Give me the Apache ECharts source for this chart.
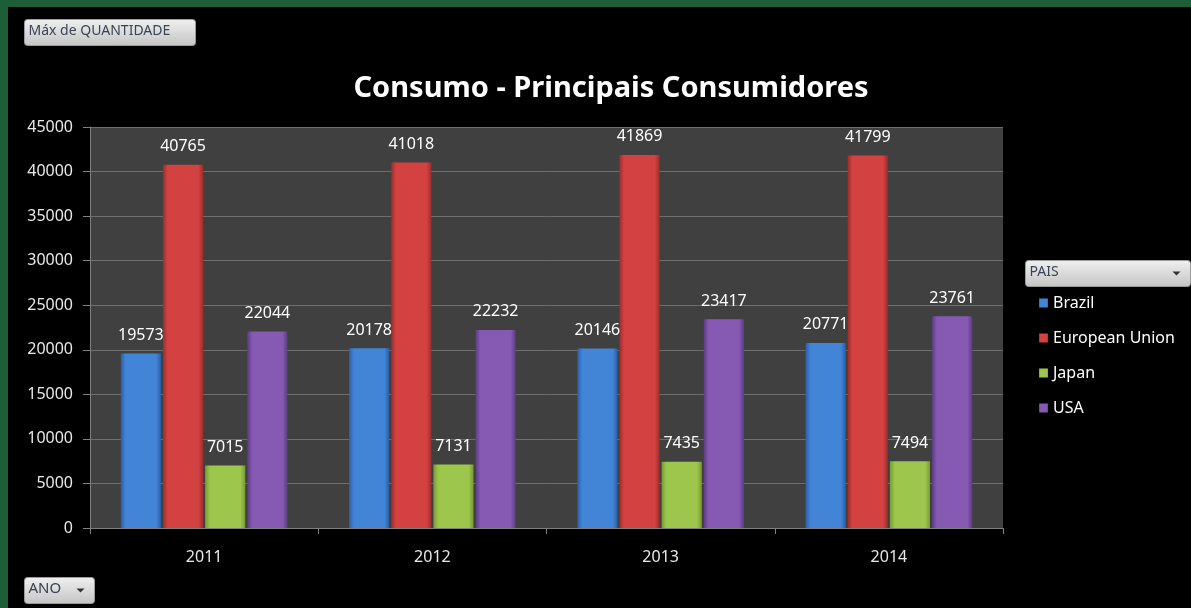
<!DOCTYPE html>
<html>
<head>
<meta charset="utf-8">
<script src="https://cdn.jsdelivr.net/npm/echarts@6/dist/echarts.min.js"></script>
<style>
html,body{margin:0;padding:0;background:#000;}
#c{width:1191px;height:608px;}
</style>
</head>
<body>
<div id="c"></div>
<script>
var years = ['2011', '2012', '2013', '2014'];
var brazil = [19573, 20178, 20146, 20771];
var eu = [40765, 41018, 41869, 41799];
var japan = [7015, 7131, 7435, 7494];
var usa = [22044, 22232, 23417, 23761];
var seriesNames = ['Brazil', 'European Union', 'Japan', 'USA'];

var baseColors = [
  ['#2a5fa8', '#4284d6', '#2a5fa8'],
  ['#9e2c2b', '#d34240', '#9e2c2b'],
  ['#789a33', '#9dc64c', '#789a33'],
  ['#5c3c82', '#8659b3', '#5c3c82']
];
function grad(c) {
  return new echarts.graphic.LinearGradient(0, 0, 1, 0, [
    {offset: 0, color: c[0]},
    {offset: 0.12, color: c[1]},
    {offset: 0.88, color: c[1]},
    {offset: 1, color: c[2]}
  ]);
}
var font = '"Noto Sans", "Open Sans", sans-serif';
var dataSets = [brazil, eu, japan, usa];

var chart = echarts.init(document.getElementById('c'));
var series = dataSets.map(function (d, i) {
  return {
    name: seriesNames[i],
    type: 'bar',
    data: d,
    barGap: '5%',
    barCategoryGap: '27%',
    itemStyle: {color: grad(baseColors[i])},
    label: {
      show: true, position: 'top', distance: 10,
      color: '#ffffff', fontSize: 16, fontFamily: font
    }
  };
});

var btnGrad = new echarts.graphic.LinearGradient(0, 0, 0, 1, [
  {offset: 0, color: '#f0f0f0'}, {offset: 1, color: '#c4c4c4'}
]);

chart.setOption({
  backgroundColor: '#000',
  animation: false,
  title: {
    text: 'Consumo - Principais Consumidores',
    left: 606, top: 69, textAlign: 'center',
    textStyle: {color: '#ffffff', fontSize: 29, fontWeight: 'bold', fontFamily: font}
  },
  grid: {left: 90, right: 188, top: 127, bottom: 80, show: true, backgroundColor: '#404040', borderWidth: 0},
  legend: {
    orient: 'vertical', left: 1034, top: 290,
    itemWidth: 9, itemHeight: 9, itemGap: 19,
    icon: 'rect',
    textStyle: {color: '#ffffff', fontSize: 16, fontFamily: font}
  },
  xAxis: {
    type: 'category', data: years,
    axisLine: {lineStyle: {color: '#808080'}},
    axisTick: {show: true, length: 6, lineStyle: {color: '#808080'}},
    axisLabel: {color: '#e8e8e8', fontSize: 16, fontFamily: font, margin: 21}
  },
  yAxis: {
    type: 'value', min: 0, max: 45000, interval: 5000,
    axisLine: {show: true, lineStyle: {color: '#808080'}},
    axisTick: {show: true, length: 7, lineStyle: {color: '#808080'}},
    axisLabel: {color: '#e8e8e8', fontSize: 16, fontFamily: font, margin: 17,
      formatter: function (v) { return String(v); }},
    splitLine: {lineStyle: {color: '#6e6e6e', width: 1}}
  },
  series: series,
  graphic: [
    {type: 'rect', left: 0, top: 0, shape: {width: 1191, height: 7}, style: {fill: '#1b5e37'}, silent: true},
    {type: 'rect', left: 0, top: 0, shape: {width: 8, height: 608}, style: {fill: '#1b5e37'}, silent: true},
    {type: 'group', left: 24, top: 19, children: [
      {type: 'rect', shape: {width: 171, height: 26, r: 3}, style: {fill: btnGrad, stroke: '#9a9a9a', lineWidth: 1}},
      {type: 'text', left: 4, top: 5, style: {text: 'Máx de QUANTIDADE', fill: '#3a4456', fontSize: 14, fontFamily: font}}
    ]},
    {type: 'group', left: 24, top: 577, children: [
      {type: 'rect', shape: {width: 70, height: 26, r: 3}, style: {fill: btnGrad, stroke: '#9a9a9a', lineWidth: 1}},
      {type: 'text', left: 4, top: 4, style: {text: 'ANO', fill: '#3a4456', fontSize: 15, fontFamily: font}},
      {type: 'polygon', shape: {points: [[52, 11], [60, 11], [56, 15]]}, style: {fill: '#333'}}
    ]},
    {type: 'group', left: 1025, top: 260, children: [
      {type: 'rect', shape: {width: 165, height: 26, r: 3}, style: {fill: btnGrad, stroke: '#9a9a9a', lineWidth: 1}},
      {type: 'text', left: 4, top: 5, style: {text: 'PAIS', fill: '#3a4456', fontSize: 14, fontFamily: font}},
      {type: 'polygon', shape: {points: [[147, 11], [155, 11], [151, 15]]}, style: {fill: '#333'}}
    ]}
  ]
});
</script>
</body>
</html>
